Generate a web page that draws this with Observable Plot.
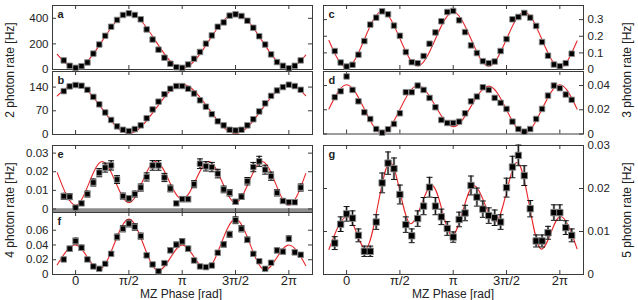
<!DOCTYPE html>
<html><head><meta charset="utf-8">
<script src="https://cdn.jsdelivr.net/npm/d3@7"></script>
<script src="https://cdn.jsdelivr.net/npm/@observablehq/plot@0.6"></script>
<style>
html,body{margin:0;padding:0;background:#fff;}
#chart{position:relative;width:638px;height:300px;overflow:hidden;font-family:"Liberation Sans",Arial,Helvetica,sans-serif;color:#222;}
#chart svg{position:absolute;}
.lbl{position:absolute;font-size:12px;white-space:nowrap;transform:translate(-50%,-50%);line-height:1;}
.rot{transform:translate(-50%,-50%) rotate(-90deg);}
</style></head><body><div id="chart"></div>
<script>
// ---- categories: MZ phase of each measurement (degrees) ----
const phaseDeg = [-20,-10,0,10,20,30,40,50,60,70,80,90,100,110,120,130,140,150,160,170,180,190,200,210,220,230,240,250,260,270,280,290,300,310,320,330,340,350,360,370,380];

// ---- measured rates ----
const aRate = [71,29,13,26,55,124,195,263,334,387,426,439,426,392,313,234,155,92,45,18,13,39,84,137,202,266,334,368,421,431,418,381,326,260,195,118,58,29,10,29,71];
const bRate = [128,142,146,144,132,111,89,65,43,24,14,10,16,27,48,74,97,119,135,143,143,135,121,101,82,60,39,27,14,12,14,27,45,68,92,114,130,140,147,143,132];
const cRate = [0.111,0.042,0.018,0.028,0.089,0.171,0.270,0.312,0.350,0.332,0.264,0.203,0.105,0.044,0.038,0.081,0.155,0.223,0.290,0.346,0.352,0.296,0.225,0.145,0.099,0.050,0.038,0.048,0.111,0.183,0.302,0.316,0.340,0.312,0.262,0.165,0.083,0.030,0.020,0.038,0.095];
const dRate = [0.0304,0.0353,0.0475,0.0364,0.0270,0.0179,0.0124,0.0041,0.0011,0.0039,0.0083,0.0171,0.0345,0.0345,0.0400,0.0364,0.0298,0.0221,0.0116,0.0091,0.0091,0.0102,0.0171,0.0270,0.0309,0.0386,0.0364,0.0298,0.0257,0.0207,0.0102,0.0041,0.0019,0.0041,0.0124,0.0207,0.0317,0.0400,0.0378,0.0326,0.0282];
const eRate = [0.0068,0.0066,0.0007,0.0030,0.0080,0.0142,0.0195,0.0222,0.0234,0.0158,0.0069,0.0057,0.0080,0.0115,0.0172,0.0234,0.0234,0.0169,0.0110,0.0030,0.0053,0.0053,0.0133,0.0243,0.0229,0.0225,0.0190,0.0105,0.0087,0.0039,0.0066,0.0149,0.0225,0.0256,0.0211,0.0176,0.0087,0.0043,0.0036,0.0036,0.0115];
const eErr  = [0.0016,0.0016,0.0007,0.0011,0.0016,0.0019,0.0022,0.0024,0.0025,0.0021,0.0016,0.0015,0.0016,0.0019,0.0022,0.0026,0.0026,0.0022,0.0018,0.0010,0.0014,0.0014,0.0019,0.0026,0.0025,0.0025,0.0023,0.0018,0.0017,0.0012,0.0015,0.0020,0.0025,0.0027,0.0024,0.0022,0.0017,0.0012,0.0011,0.0011,0.0019];
const fRate = [0.0204,0.0350,0.0453,0.0363,0.0204,0.0109,0.0077,0.0145,0.0280,0.0508,0.0620,0.0690,0.0644,0.0520,0.0259,0.0136,0.0045,0.0154,0.0327,0.0404,0.0449,0.0350,0.0190,0.0109,0.0100,0.0122,0.0295,0.0408,0.0544,0.0735,0.0620,0.0470,0.0280,0.0180,0.0077,0.0159,0.0326,0.0310,0.0485,0.0300,0.0268];
const fErr  = [0.0025,0.0032,0.0040,0.0034,0.0025,0.0018,0.0015,0.0020,0.0028,0.0038,0.0042,0.0045,0.0044,0.0040,0.0027,0.0020,0.0012,0.0020,0.0031,0.0035,0.0037,0.0032,0.0024,0.0018,0.0017,0.0019,0.0029,0.0035,0.0040,0.0046,0.0042,0.0037,0.0028,0.0023,0.0015,0.0021,0.0031,0.0030,0.0038,0.0030,0.0028];
const gRate = [0.0073,0.0117,0.0141,0.0131,0.0091,0.0054,0.0054,0.0122,0.0213,0.0259,0.0246,0.0186,0.0116,0.0090,0.0130,0.0159,0.0203,0.0159,0.0134,0.0107,0.0087,0.0128,0.0143,0.0207,0.0180,0.0152,0.0137,0.0132,0.0122,0.0202,0.0250,0.0277,0.0230,0.0153,0.0078,0.0078,0.0097,0.0144,0.0144,0.0109,0.0091];
const gErr  = [0.0015,0.0017,0.0017,0.0017,0.0015,0.0012,0.0012,0.0017,0.0023,0.0026,0.0025,0.0022,0.0018,0.0016,0.0018,0.0020,0.0023,0.0020,0.0018,0.0016,0.0012,0.0017,0.0018,0.0022,0.0021,0.0019,0.0018,0.0018,0.0017,0.0022,0.0025,0.0024,0.0023,0.0019,0.0014,0.0014,0.0015,0.0018,0.0018,0.0016,0.0015];

// ---- fitted curves: turning points (phase in rad) ----
const aFitX = [-0.54,0,1.571,3.142,4.712,6.283,6.78];
const aFitY = [118,10,438,10,438,10,112];
const bFitX = [-0.54,0,1.571,3.142,4.712,6.283,6.78];
const bFitY = [114,148,3,148,3,148,115];
const cFitX = [-0.52,0,1.047,2.094,3.142,4.189,5.236,6.283,6.79];
const cFitY = [0.175,0.012,0.350,0.022,0.346,0.020,0.346,0.012,0.171];
const dFitX = [-0.52,0,1.047,2.094,3.142,4.189,5.236,6.283,6.79];
const dFitY = [0.0207,0.0406,0.0005,0.0400,0.0061,0.0395,0.0005,0.0406,0.0207];
const eFitX = [-0.54,0,0.785,1.571,2.356,3.142,3.927,4.712,5.498,6.283,6.78];
const eFitY = [0.0195,0.0020,0.0255,0.0034,0.0255,0.0052,0.0255,0.0034,0.0255,0.0020,0.0190];
const fFitX = [-0.54,0,0.70,1.571,2.44,3.142,3.85,4.712,5.58,6.283,6.78];
const fFitY = [0.0132,0.0400,0.0068,0.0750,0.0050,0.0400,0.0068,0.0750,0.0060,0.0400,0.0122];
const gFitX = [-0.52,0.02,0.56,1.28,1.885,2.52,3.11,3.75,4.39,5.03,5.74,6.30,6.79];
const gFitY = [0.0058,0.0135,0.0060,0.0261,0.0118,0.0207,0.0091,0.0207,0.0122,0.0261,0.0059,0.0135,0.0060];

// ---- ticks ----
const xTickValues = [0, Math.PI/2, Math.PI, 3*Math.PI/2, 2*Math.PI];
const xTickLabels = ["0","π/2","π","3π/2","2π"];
const aTicks = [0,200,400], aTickLabels = ["0","200","400"];
const bTicks = [0,70,140], bTickLabels = ["0","70","140"];
const cTicks = [0,0.1,0.2,0.3], cTickLabels = ["0","0.1","0.2","0.3"];
const dTicks = [0,0.02,0.04], dTickLabels = ["0","0.02","0.04"];
const eTicks = [0,0.01,0.02,0.03], eTickLabels = ["0","0.01","0.02","0.03"];
const fTicks = [0,0.02,0.04,0.06], fTickLabels = ["0","0.02","0.04","0.06"];
const gTicks = [0,0.01,0.02,0.03], gTickLabels = ["0","0.01","0.02","0.03"];

// ---- titles ----
const yTitles = ["2 photon rate [Hz]","4 photon rate [Hz]","3 photon rate [Hz]","5 photon rate [Hz]"];
const xTitle = "MZ Phase [rad]";

const XDOMAIN = [-0.68, 6.98];
const FONT = '"Liberation Sans", Arial, Helvetica, sans-serif';
const FRAME = "#3a3a3a";
const RED = "#e8262a";

const capSymbol = {draw(ctx, size){ const r = Math.sqrt(size/Math.PI); ctx.moveTo(-r,0); ctx.lineTo(r,0);} };

const panels = [
  {letter:"a", left:52, top:5,   w:260, h:64,  yDomain:[0,500],          ticks:aTicks, labels:aTickLabels, side:"left",  rate:aRate, fitX:aFitX, fitY:aFitY},
  {letter:"b", left:52, top:71,  w:260, h:63,  yDomain:[0,186],          ticks:bTicks, labels:bTickLabels, side:"left",  rate:bRate, fitX:bFitX, fitY:bFitY},
  {letter:"c", left:323, top:5,  w:260, h:64,  yDomain:[0,0.385],        ticks:cTicks, labels:cTickLabels, side:"right", rate:cRate, fitX:cFitX, fitY:cFitY},
  {letter:"d", left:323, top:71, w:260, h:62.5, yDomain:[0,0.0516],      ticks:dTicks, labels:dTickLabels, side:"right", rate:dRate, fitX:dFitX, fitY:dFitY},
  {letter:"e", left:52, top:145, w:260, h:67,  yDomain:[-0.0019,0.0341], ticks:eTicks, labels:eTickLabels, side:"left",  rate:eRate, err:eErr, fitX:eFitX, fitY:eFitY, band:true},
  {letter:"f", left:52, top:212, w:260, h:62,  yDomain:[0,0.084],        ticks:fTicks, labels:fTickLabels, side:"left",  rate:fRate, err:fErr, fitX:fFitX, fitY:fFitY, xAxis:true},
  {letter:"g", left:323, top:145, w:260, h:129, yDomain:[0,0.03],        ticks:gTicks, labels:gTickLabels, side:"right", rate:gRate, err:gErr, fitX:gFitX, fitY:gFitY, xAxis:true, big:true}
];

const chart = document.getElementById("chart");
const ML = 50, MR = 50, MT = 6, MB = 26;

for (const p of panels) {
  const data = phaseDeg.map((d,i) => ({x: d*Math.PI/180, y: p.rate[i], e: p.err ? p.err[i] : 0}));
  const fit = p.fitX.map((x,i) => ({x, y: p.fitY[i]}));
  const marks = [];
  if (p.band) marks.push(Plot.ruleY([0], {stroke:"#8c8c8c", strokeWidth:4.6, dy:1.6}));
  marks.push(Plot.frame({stroke: FRAME, strokeWidth: 1}));
  marks.push(Plot.tickX(xTickValues, {x: d=>d, insetBottom: p.h - 4, stroke: FRAME}));
  marks.push(Plot.tickX(xTickValues, {x: d=>d, insetTop: p.h - 4, stroke: FRAME}));
  marks.push(Plot.tickY(p.ticks, {y: d=>d, insetRight: p.w - 4, stroke: FRAME}));
  marks.push(Plot.tickY(p.ticks, {y: d=>d, insetLeft: p.w - 4, stroke: FRAME}));
  marks.push(Plot.axisY({ticks: p.ticks, anchor: p.side, tickSize: 0, tickPadding: 4, label: null,
    tickFormat: d => p.labels[p.ticks.indexOf(d)], fontSize: 11.5}));
  if (p.xAxis) marks.push(Plot.axisX({ticks: xTickValues, anchor: "bottom", tickSize: 0, tickPadding: 1, label: null,
    tickFormat: d => xTickLabels[xTickValues.indexOf(d)], fontSize: 13}));
  marks.push(Plot.line(fit, {x:"x", y:"y", stroke: RED, strokeWidth: 1.1, curve: "monotone-x"}));
  if (p.err) {
    marks.push(Plot.ruleX(data, {x:"x", y1: d=>d.y-d.e, y2: d=>d.y+d.e, stroke:"#9a9a9a", strokeWidth:2.4}));
    marks.push(Plot.ruleX(data, {x:"x", y1: d=>d.y-d.e, y2: d=>d.y+d.e, stroke:"#111", strokeWidth:1}));
    marks.push(Plot.dot(data, {x:"x", y: d=>d.y+d.e, symbol: capSymbol, r: 3, stroke:"#111", strokeWidth:1}));
    marks.push(Plot.dot(data, {x:"x", y: d=>d.y-d.e, symbol: capSymbol, r: 3, stroke:"#111", strokeWidth:1}));
  }
  marks.push(Plot.dot(data, {x:"x", y:"y", symbol:"square", r: p.big ? 3.6 : 3.1, fill:"#000", stroke:"#8a8a8a", strokeWidth:0.9}));
  marks.push(Plot.text([p.letter], {text: d=>d, frameAnchor:"top-left", dx: 5, dy: 5, lineAnchor:"top", fontWeight:"bold", fontSize: 11}));

  const svg = Plot.plot({
    width: ML + p.w + MR, height: MT + p.h + MB,
    marginLeft: ML, marginRight: MR, marginTop: MT, marginBottom: MB,
    x: {domain: XDOMAIN, ...(p.xAxis ? {} : {axis: null})},
    y: {domain: p.yDomain},
    style: {background:"transparent", overflow:"visible", fontFamily: FONT, fontSize:"12px", color:"#222"},
    marks
  });
  svg.style.left = (p.left - ML) + "px";
  svg.style.top = (p.top - MT) + "px";
  svg.style.maxWidth = "none";
  chart.appendChild(svg);
}

function addLabel(text, x, y, rotate) {
  const el = document.createElement("div");
  el.className = "lbl" + (rotate ? " rot" : "");
  el.textContent = text;
  el.style.left = x + "px";
  el.style.top = y + "px";
  chart.appendChild(el);
}
addLabel(yTitles[0], 10, 70, true);
addLabel(yTitles[1], 10, 210, true);
addLabel(yTitles[2], 627, 70, true);
addLabel(yTitles[3], 627, 210, true);
addLabel(xTitle, 181, 293.5, false);
addLabel(xTitle, 453, 293.5, false);
</script>
</body></html>
